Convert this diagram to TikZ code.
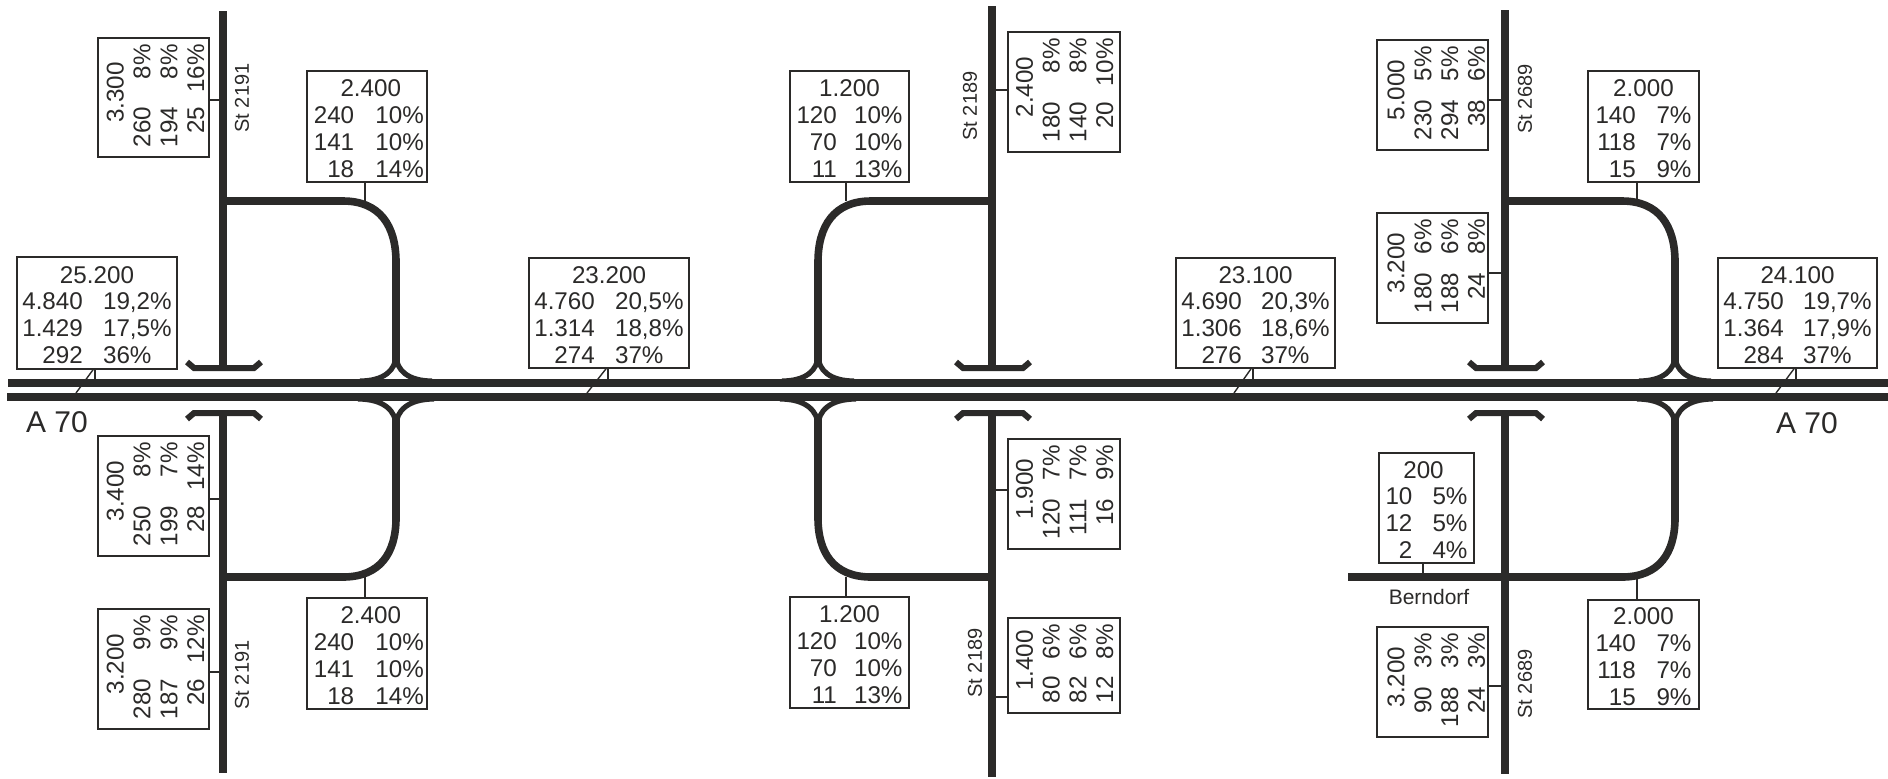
\documentclass[tikz,border=0pt]{standalone}
\usepackage{fontspec}
\usepackage{graphicx}
\setmainfont{Liberation Sans}
\definecolor{ink}{HTML}{2B2A29}
\setlength{\tabcolsep}{1pt}
\tikzset{
  bx/.style={draw=ink,line width=.8pt,inner sep=0pt,text=ink,font=\fontsize{12.1}{13.4}\selectfont,fill=white},
  road/.style={draw=ink,line width=4pt},
  ramp/.style={draw=ink,line width=3.8pt},
  split/.style={draw=ink,line width=2.6pt},
  bridge/.style={draw=ink,line width=3pt,miter limit=10},
  stem/.style={draw=ink,line width=.7pt},
  stlabel/.style={text=ink,font=\fontsize{10}{12}\selectfont,rotate=90,inner sep=0pt},
  alabel/.style={text=ink,font=\fontsize{15}{18}\selectfont,inner sep=0pt},
}
\newcommand\vbshift{5pt}
\newcommand\hbshift{0pt}
\newcommand\bxpad{6.5}
% name, x1,y1,x2,y2, column of the percentages, head, rows
\newcommand\hb[8]{%
  \pgfmathsetmacro\bW{(#4-#2)*.5}\pgfmathsetmacro\bH{(#5-#3)*.5}\pgfmathsetmacro\bT{\bW-\bxpad}%
  \node[bx,minimum width=\bW pt,minimum height=\bH pt] (#1) at ({(#2+#4)/2},{(#3+#5)/2})
  {\makebox[0pt]{\hspace*{\hbshift}\raisebox{-5.5pt}[0pt][0pt]{\begin{tabular*}{\bT pt}{@{\extracolsep{\fill}}r#6@{}}\multicolumn{2}{c}{#7}\\#8\end{tabular*}}}};}
\newcommand\vb[8]{%
  \pgfmathsetmacro\bW{(#4-#2)*.5}\pgfmathsetmacro\bH{(#5-#3)*.5}\pgfmathsetmacro\bT{\bH-\bxpad}%
  \node[bx,minimum width=\bW pt,minimum height=\bH pt] (#1) at ({(#2+#4)/2},{(#3+#5)/2})
  {\makebox[0pt]{\hspace*{\vbshift}\rotatebox{90}{\hspace*{2pt}\begin{tabular*}{\bT pt}{@{\extracolsep{\fill}}r#6@{}}\multicolumn{2}{c}{\hspace*{3pt}#7}\\#8\end{tabular*}}}};}
% road x, ramp x, top, bottom
\newcommand\junction[4]{%
  \pgfmathsetmacro\sg{(#2>#1)?1:-1}%
  \path[road] (#1,#3) -- (#1,368);
  \path[road] (#1,413) -- (#1,#4);
  \path[bridge] ({#1-36},362) -- ({#1-29},368) -- ({#1+31},368) -- ({#1+38},362);
  \path[bridge] ({#1-36},419) -- ({#1-29},413) -- ({#1+31},413) -- ({#1+38},419);
  \path[ramp] (#1,201) -- ({#2-\sg*53},201) .. controls ({#2-\sg*16},201) and (#2,226) .. (#2,262) -- (#2,362);
  \path[split] (#2,355) .. controls (#2,370) and ({#2-12},381) .. ({#2-36},381);
  \path[split] (#2,355) .. controls (#2,370) and ({#2+12},381) .. ({#2+36},381);
  \path[split] (#2,426) .. controls (#2,411) and ({#2-12},399) .. ({#2-38},399);
  \path[split] (#2,426) .. controls (#2,411) and ({#2+12},399) .. ({#2+38},399);
  \path[ramp] (#2,419) -- (#2,518) .. controls (#2,553) and ({#2-\sg*16},577) .. ({#2-\sg*53},577);
}
\begin{document}
\begin{tikzpicture}[x=.5pt,y=-.5pt]
\useasboundingbox (0,0) rectangle (1888,778);
% motorway
\path[road] (8,383) -- (1888,383);
\path[road] (7,397) -- (1888,397);
% junctions
\junction{223}{396}{11}{773}
\junction{992}{818}{6}{777}
\junction{1505}{1675}{10}{774}
\path[ramp] (343,577) -- (223,577);
\path[ramp] (870,577) -- (992,577);
\path[ramp] (1622,577) -- (1348,577);
% road anchor coordinates
\coordinate (mu1) at (95,379);   \coordinate (ml1) at (76,393);
\coordinate (mu2) at (608,379);  \coordinate (ml2) at (587,393);
\coordinate (mu3) at (1253,379); \coordinate (ml3) at (1234,393);
\coordinate (mu4) at (1796,379); \coordinate (ml4) at (1776,393);
\coordinate (r1t) at (365,201);  \coordinate (r1b) at (365,577);
\coordinate (r2t) at (846,201);  \coordinate (r2b) at (846,577);
\coordinate (r3t) at (1637,201); \coordinate (r3b) at (1637,577);
\coordinate (rb) at (1423,577);
\coordinate (s1a) at (219,100); \coordinate (s1b) at (219,499); \coordinate (s1c) at (219,672);
\coordinate (s2a) at (996,90);  \coordinate (s2b) at (996,490); \coordinate (s2c) at (996,697);
\coordinate (s3a) at (1501,100); \coordinate (s3b) at (1501,273); \coordinate (s3c) at (1501,686);
% motorway boxes
\renewcommand\bxpad{5.3}
\hb{m1}{17}{257}{177}{369}{l}{25.200}{4.840&19,2\%\\1.429&17,5\%\\292&36\%}
\hb{m2}{529}{258}{689}{368}{l}{23.200}{4.760&20,5\%\\1.314&18,8\%\\274&37\%}
\hb{m3}{1176}{258}{1335}{368}{l}{23.100}{4.690&20,3\%\\1.306&18,6\%\\276&37\%}
\hb{m4}{1718}{258}{1877}{368}{l}{24.100}{4.750&19,7\%\\1.364&17,9\%\\284&37\%}
% ramp boxes
\renewcommand\bxpad{5}
\renewcommand\hbshift{1.8pt}
\hb{a1}{307}{71}{427}{182}{l}{\hspace*{2pt}2.400}{240&10\%\\141&10\%\\18&14\%}
\hb{a2}{307}{598}{427}{709}{l}{\hspace*{2pt}2.400}{240&10\%\\141&10\%\\18&14\%}
\renewcommand\hbshift{0pt}
\renewcommand\bxpad{6.5}
\hb{a3}{790}{71}{909}{182}{l}{1.200}{120&10\%\\70&10\%\\11&13\%}
\hb{a4}{790}{597}{909}{708}{l}{1.200}{120&10\%\\70&10\%\\11&13\%}
\renewcommand\bxpad{7.5}
\hb{a5}{1588}{71}{1699}{182}{l}{2.000}{140&7\%\\118&7\%\\15&9\%}
\hb{a6}{1588}{600}{1699}{709}{l}{2.000}{140&7\%\\118&7\%\\15&9\%}
\renewcommand\bxpad{6.5}
\hb{a7}{1379}{453}{1474}{563}{l}{\hspace*{-3pt}200}{10&5\%\\12&5\%\\2&4\%}
% side road boxes
\renewcommand\bxpad{8}
\vb{b1}{98}{38}{209}{157}{r}{3.300}{260&8\%\\194&8\%\\25&16\%}
\vb{b2}{98}{436}{209}{556}{r}{3.400}{250&8\%\\199&7\%\\28&14\%}
\vb{b3}{98}{609}{209}{729}{r}{3.200}{280&9\%\\187&9\%\\26&12\%}
\renewcommand\vbshift{3.6pt}
\vb{b4}{1008}{32}{1120}{152}{r}{2.400}{180&8\%\\140&8\%\\20&10\%}
\vb{b5}{1008}{439}{1120}{549}{r}{1.900}{120&7\%\\111&7\%\\16&9\%}
\vb{b6}{1008}{618}{1120}{713}{r}{1.400}{80&6\%\\82&6\%\\12&8\%}
\renewcommand\vbshift{6.8pt}
\vb{b7}{1377}{40}{1488}{150}{r}{5.000}{230&5\%\\294&5\%\\38&6\%}
\vb{b8}{1377}{213}{1488}{323}{r}{3.200}{180&6\%\\188&6\%\\24&8\%}
\vb{b9}{1377}{627}{1488}{737}{r}{3.200}{90&3\%\\188&3\%\\24&3\%}
% stems
\draw[stem] (mu1 |- m1.south) -- (mu1);
\draw[stem] (mu2 |- m2.south) -- (mu2);
\draw[stem] (mu3 |- m3.south) -- (mu3);
\draw[stem] (mu4 |- m4.south) -- (mu4);
\draw[stem] ([xshift=-1pt]mu1 |- m1.south) -- (ml1);
\draw[stem] ([xshift=-1pt]mu2 |- m2.south) -- (ml2);
\draw[stem] ([xshift=-1pt]mu3 |- m3.south) -- (ml3);
\draw[stem] ([xshift=-1pt]mu4 |- m4.south) -- (ml4);
\draw[stem] (r1t |- a1.south) -- (r1t);
\draw[stem] (r1b |- a2.north) -- (r1b);
\draw[stem] (r2t |- a3.south) -- (r2t);
\draw[stem] (r2b |- a4.north) -- (r2b);
\draw[stem] (r3t |- a5.south) -- (r3t);
\draw[stem] (r3b |- a6.north) -- (r3b);
\draw[stem] (rb |- a7.south) -- (rb);
\draw[stem] (b1.east |- s1a) -- (s1a);
\draw[stem] (b2.east |- s1b) -- (s1b);
\draw[stem] (b3.east |- s1c) -- (s1c);
\draw[stem] (b4.west |- s2a) -- (s2a);
\draw[stem] (b5.west |- s2b) -- (s2b);
\draw[stem] (b6.west |- s2c) -- (s2c);
\draw[stem] (b7.east |- s3a) -- (s3a);
\draw[stem] (b8.east |- s3b) -- (s3b);
\draw[stem] (b9.east |- s3c) -- (s3c);
% labels
\node[alabel] (la1) at (57,422) {A 70};
\node[alabel] (la2) at (1807,423) {A 70};
\node[stlabel] (ls1) at (242,98) {St 2191};
\node[stlabel] (ls2) at (242,675) {St 2191};
\node[stlabel] (ls3) at (970,106) {St 2189};
\node[stlabel] (ls4) at (975,663) {St 2189};
\node[stlabel] (ls5) at (1525,99) {St 2689};
\node[stlabel] (ls6) at (1525,684) {St 2689};
\node[text=ink,font=\fontsize{10.5}{12}\selectfont,inner sep=0pt] (lb) at (1429,597) {Berndorf};
\end{tikzpicture}
\end{document}
